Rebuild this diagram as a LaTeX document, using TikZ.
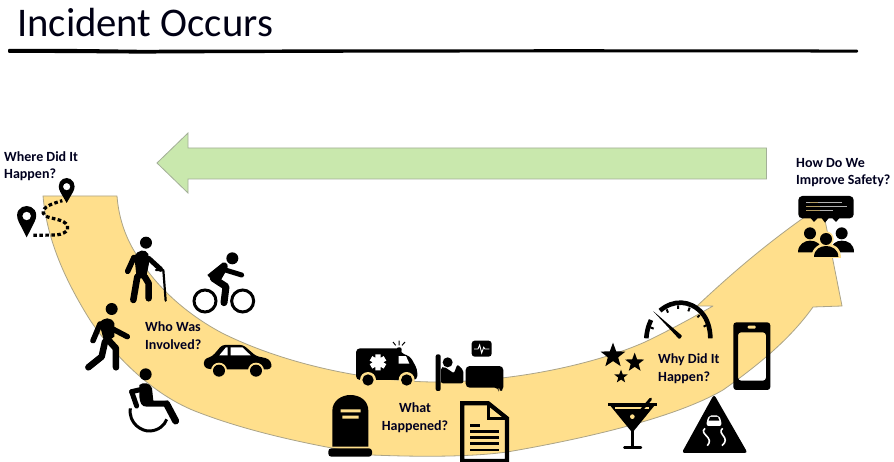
\documentclass[tikz,border=0pt]{standalone}
\usepackage{fontspec}
\setmainfont{Carlito}
\usetikzlibrary{shapes.geometric}
\definecolor{bandc}{HTML}{FFDF8C}
\definecolor{bandl}{HTML}{ABA488}
\definecolor{greenc}{HTML}{C9E8AD}
\definecolor{greenl}{HTML}{A3AF98}
\tikzset{
  lbl/.style={font=\bfseries\fontsize{14}{17.5}\selectfont,text=black!88!blue,inner sep=0pt,align=left},
  limb/.style={draw=black,line cap=round,line join=round},
  zoomA/.style={shift={(0,130)},x=0.33333pt,y=-0.33333pt},
  zoomB/.style={shift={(300,320)},x=0.33333pt,y=-0.33333pt},
  zoomC/.style={shift={(590,140)},x=0.33333pt,y=-0.33333pt},
  starico/.style={star,star points=5,star point ratio=2.4,fill=black,inner sep=0pt},
}
\begin{document}
\begin{tikzpicture}[x=1pt,y=-1pt]
\useasboundingbox (0,0) rectangle (894,462);
\fill[white] (0,0) rectangle (894,462);

% title and rule
\node[anchor=base west,inner sep=0pt,font=\fontsize{40.7}{44}\selectfont,text=black!92!blue] (title) at (17,37) {Incident Occurs};
\fill[black,rounded corners=1pt] (8,48.8) .. controls (60,48.6) and (95,49.2) .. (140,49.8) .. controls (300,49.4) and (600,48.9) .. (858,49.6)
  -- (858,52.6) .. controls (600,52) and (300,52.6) .. (140,53.6) .. controls (95,53.2) and (60,53) .. (8,52.8) -- cycle;

% yellow sweep arrow
\draw[fill=bandc,draw=bandl,line width=0.8pt,line join=round]
  (43,196) -- (117,196)
  .. controls (119,222) and (128,243) .. (140,260)
  .. controls (160,291) and (190,316) .. (222,333)
  .. controls (280,362) and (360,381) .. (433,382)
  .. controls (520,382) and (600,362) .. (645,342)
  .. controls (668,331) and (692,318) .. (713,306)
  -- (697,306)
  .. controls (730,275) and (770,240) .. (822,205)
  -- (842,306) -- (813,307)
  .. controls (795,332) and (770,357) .. (723,390)
  .. controls (680,415) and (600,436) .. (507,452)
  .. controls (470,457) and (420,457) .. (372,455)
  .. controls (310,445) and (250,432) .. (200,413)
  .. controls (150,395) and (110,350) .. (90,320)
  .. controls (65,280) and (47,240) .. (43,196) -- cycle;

% green arrow
\draw[fill=greenc,draw=greenl,line width=0.8pt,line join=miter]
  (157,163) -- (188,133) -- (188,148) -- (766.5,148) -- (766.5,179) -- (188,179) -- (188,193) -- cycle;

% labels
\node[lbl,anchor=west] (where) at (4,166) {Where Did It\\Happen?};
\node[lbl,anchor=west] (who) at (145,335.5) {Who Was\\Involved?};
\node[lbl,align=center] (what) at (415,417.5) {What\\Happened?};
\node[lbl,anchor=west] (why) at (658,368.5) {Why Did It\\Happen?};
\node[lbl,anchor=west] (how) at (796,172.5) {How Do We\\Improve Safety?};

% ---------- left group
\begin{scope}[zoomA]
  % pins
  \fill[black,even odd rule] (80,322) -- (56,275) .. controls (42,245) and (62,228) .. (80,228) .. controls (98,228) and (118,245) .. (104,275) -- cycle
     (80,258) circle (13);
  \fill[black,even odd rule] (200,219) -- (181,186) .. controls (168,162) and (184,144) .. (200,144) .. controls (216,144) and (232,162) .. (219,186) -- cycle
     (200,170) circle (11);
  \draw[black,line width=3.2pt,dash pattern=on 3.6pt off 2.4pt]
     (100,316) -- (170,315) .. controls (205,310) and (215,290) .. (190,275) .. controls (165,263) and (135,265) .. (130,250)
     .. controls (125,230) and (160,220) .. (187,212);
  % elder
  \fill (438,338) circle (18);
  \fill (403,378) .. controls (413,360) and (436,355) .. (445,372) -- (447,400) -- (438,445) -- (410,445) -- cycle;
  \draw[limb,line width=6.5pt] (434,440) -- (446,460) -- (446,505);
  \draw[limb,line width=6.5pt] (412,440) -- (400,510);
  \draw[limb,line width=5.5pt] (402,382) -- (383,424);
  \draw[limb,line width=5pt] (446,385) -- (482,418);
  \draw[limb,line width=2.2pt] (468,420) -- (490,420) -- (497,512);
  % cyclist
  \fill (697,385) circle (18);
  \draw[black,line width=3pt] (615,513) circle (33) (728,513) circle (33);
  \fill[line join=round] (622,435) -- (668,398) .. controls (680,395) and (688,405) .. (680,420) -- (660,455) -- (640,455) -- cycle;
  \draw[limb,line width=5pt] (676,420) -- (725,435);
  \draw[limb,line width=7pt] (640,445) -- (678,470) -- (672,518);
  % walker
  \fill (335,537) circle (18);
  \fill (298,580) .. controls (310,560) and (335,560) .. (343,580) -- (343,620) -- (314,640) -- cycle;
  \draw[limb,line width=5.5pt] (300,582) -- (279,632);
  \draw[limb,line width=5.5pt] (340,598) -- (382,620);
  \draw[limb,line width=6.5pt] (325,630) -- (348,655) -- (348,712);
  \draw[limb,line width=6.5pt] (315,635) -- (305,680) -- (265,712);
  % wheelchair
  \fill (437,733) circle (18);
  \fill (418,765) .. controls (430,755) and (450,758) .. (456,775) -- (460,812) -- (505,812) -- (505,830) -- (440,830) .. controls (425,830) and (420,820) .. (418,800) -- cycle;
  \draw[limb,line width=5pt] (395,785) -- (410,828);
  \draw[limb,line width=5pt] (395,785) -- (425,778);
  \draw[limb,line width=7pt] (500,822) -- (527,873);
  \draw[black,line width=3pt] (391,835) .. controls (385,880) and (425,905) .. (450,903) .. controls (475,902) and (495,885) .. (500,868);
  % car
  \fill[rounded corners=3pt] (612,712) -- (612,688) -- (638,678) -- (666,645) -- (730,645) -- (768,678) -- (805,686) -- (816,702) -- (812,718) -- (630,718) -- cycle;
  \fill[white] (658,676) -- (678,652) -- (683,652) -- (683,676) -- cycle
               (692,652) -- (727,652) -- (752,676) -- (692,676) -- cycle;
  \fill[bandc] (657,722) circle (24) (768,722) circle (24);
  \fill (657,722) circle (18) (768,722) circle (18);
\end{scope}

% ---------- middle group
\begin{scope}[zoomB]
  % ambulance
  \fill[rounded corners=4pt] (168,85) -- (302,85) -- (302,100) -- (330,108) -- (352,148) -- (352,180) -- (168,180) -- cycle;
  \fill[white] (296,108) -- (318,108) -- (328,131) -- (296,131) -- cycle;
  \draw[white,line width=5.2pt] (234,103) -- (234,151) (213,115) -- (255,139) (213,139) -- (255,115);
  \fill[bandc] (204,180) circle (24) (320,180) circle (24);
  \fill (204,180) circle (17) (320,180) circle (17);
  \fill[rounded corners=2pt] (290,82) rectangle (305,96);
  \draw[black,line width=1pt] (297,76) -- (297,62) (287,76) -- (279,66) (306,76) -- (315,66);
  % bed
  \fill[rounded corners=2pt] (407,103) rectangle (422,213);
  \fill (443,127) circle (15);
  \fill[rounded corners=2pt] (423,142) -- (432,140) -- (462,160) -- (472,133) -- (490,150) -- (490,190) -- (423,190) -- cycle;
  \fill[rounded corners=4pt] (497,138) -- (610,138) -- (610,213) -- (596,213) -- (596,203) -- (497,203) -- cycle;
  \fill[rounded corners=3pt] (515,62) rectangle (575,110);
  \draw[white,line width=0.9pt] (522,87) -- (534,87) -- (539,75) -- (545,99) -- (551,82) -- (555,87) -- (568,87);
  % tombstone
  \fill (97,380) -- (97,272) .. controls (97,242) and (125,225) .. (151,225) .. controls (180,225) and (205,242) .. (205,272) -- (205,380) -- cycle;
  \fill[rounded corners=3pt] (85,385) rectangle (216,410);
  \fill[bandc] (122,268) rectangle (182,277) (127,287) rectangle (176,296);
  % document
  \draw[black,line width=4.2pt,line join=miter] (487,423) -- (487,250) -- (565,250) -- (621,295) -- (621,423) -- cycle;
  \draw[black,line width=3.4pt,line join=miter] (565,250) -- (565,295) -- (621,295);
  \draw[black,line width=2.6pt] (510,317) -- (539,317) (510,335) -- (598,335) (510,353) -- (598,353) (510,371) -- (598,371) (510,390) -- (598,390);
\end{scope}

% ---------- right group
\begin{scope}[zoomC]
  % bubble
  \fill[rounded corners=4pt] (625,168) rectangle (791,235);
  \fill (660,232) -- (685,232) -- (672,246) -- cycle (693,232) -- (718,232) -- (705,248) -- cycle (725,232) -- (750,232) -- (738,246) -- cycle;
  \draw[black!30,line width=0.9pt] (648,188) -- (755,188) (648,200) -- (770,200) (648,212) -- (730,212);
  \draw[bandc!70!black,line width=1.1pt] (660,188) -- (685,188) (648,200) -- (690,200) (648,212) -- (690,212);
  % people
  \fill (660,280) circle (18) (755,280) circle (18);
  \fill (624,337) .. controls (624,312) and (645,302) .. (660,302) .. controls (680,302) and (695,312) .. (697,337) -- cycle;
  \fill (720,337) .. controls (722,312) and (738,302) .. (755,302) .. controls (775,302) and (792,312) .. (792,337) -- cycle;
  \fill[bandc] (708,297) circle (23);
  \fill[bandc] (664,354) .. controls (664,322) and (690,310) .. (708,310) .. controls (730,310) and (753,322) .. (753,354) -- cycle;
  \fill (708,297) circle (18);
  \fill (672,351) .. controls (672,328) and (692,318) .. (708,318) .. controls (726,318) and (745,328) .. (745,351) -- cycle;
  % gauge
  \draw[black,line width=4.6pt] (169,595) .. controls (169,585) and (173,560) .. (183,540);
  \draw[black,line width=4.6pt] (210,512) .. controls (250,478) and (300,480) .. (335,518) .. controls (352,537) and (361,565) .. (361,595);
  \draw[black,line width=2pt] (181,562) -- (191,566) (230,508) -- (234,518) (264,496) -- (264,507) (299,503) -- (295,514) (329,525) -- (322,532) (350,555) -- (341,560);
  \fill[rounded corners=1pt] (188,512) -- (277,588) -- (268,598) -- cycle;
  % stars
  \node[starico,minimum size=26pt] (starA) at (69,647) {};
  \node[starico,minimum size=20pt] (starB) at (134,668) {};
  \node[starico,minimum size=14pt] (starC) at (93,710) {};
  % martini
  \draw[black,line width=2.8pt,line join=miter] (54,794) -- (200,794);
  \fill (60,796) -- (194,796) -- (127,878) -- cycle;
  \fill[bandc] (76,802) rectangle (178,807);
  \fill[bandc] (127,830) circle (7);
  \draw[black,line width=2.6pt] (127,870) -- (127,922);
  \draw[black,line width=2.4pt,line cap=round] (103,923) -- (153,923);
  \draw[black,line width=2.8pt,line cap=round] (150,815) -- (182,777);
  % phone
  \fill[even odd rule,rounded corners=3pt] (430,547) rectangle (541,750) (444,577) rectangle (528,722);
  \fill[bandc,rounded corners=1pt] (473,557) rectangle (497,566);
  % warning triangle
  \fill[rounded corners=3pt] (372,763) -- (473,939) -- (275,939) -- cycle;
  \fill[white,rounded corners=2pt] (350,858) -- (350,842) -- (358,826) -- (386,826) -- (394,842) -- (394,858) -- cycle;
  \fill[black] (360,831) -- (384,831) -- (388,842) -- (356,842) -- cycle;
  \draw[white,line width=1.6pt] (345,865) .. controls (325,882) and (375,892) .. (352,917);
  \draw[white,line width=1.6pt] (398,865) .. controls (378,882) and (425,892) .. (396,917);
\end{scope}
\end{tikzpicture}
\end{document}
